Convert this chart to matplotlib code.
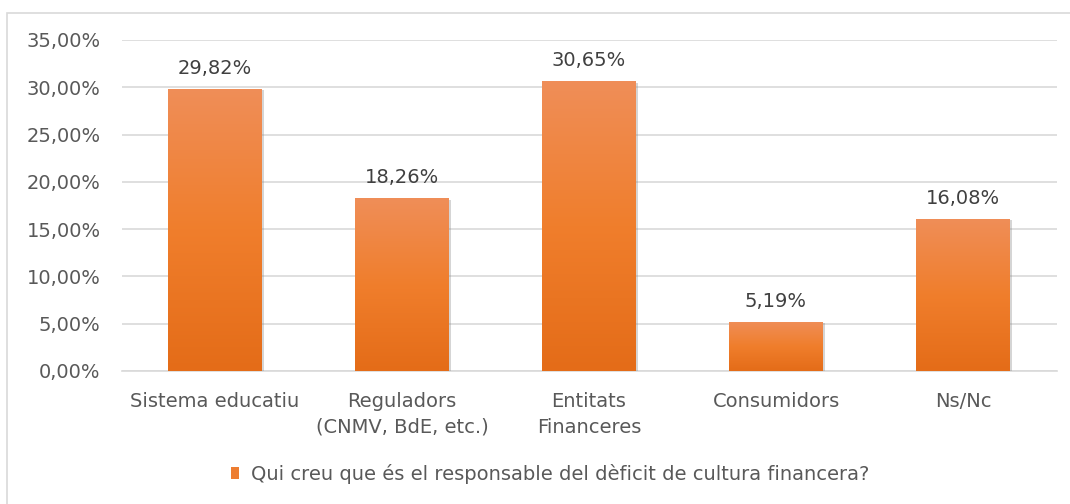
import matplotlib
matplotlib.use("Agg")
import matplotlib.pyplot as plt
import numpy as np
from matplotlib.patches import Rectangle
import matplotlib.patheffects as pe
from matplotlib.colors import LinearSegmentedColormap

categories = ["Sistema educatiu", "Reguladors\n(CNMV, BdE, etc.)", "Entitats\nFinanceres", "Consumidors", "Ns/Nc"]
values = [29.82, 18.26, 30.65, 5.19, 16.08]
value_labels = ["29,82%", "18,26%", "30,65%", "5,19%", "16,08%"]
yticks = [0, 5, 10, 15, 20, 25, 30, 35]
ytick_labels = ["0,00%", "5,00%", "10,00%", "15,00%", "20,00%", "25,00%", "30,00%", "35,00%"]
series_name = "Qui creu que és el responsable del dèficit de cultura financera?"

plt.rcParams['font.family'] = ['DejaVu Sans']
text_color = "#595959"
fs = 14

fig = plt.figure(figsize=(10.7, 5.04), dpi=100)
W, H = 1070, 504
# outer chart border
fig.patches.append(Rectangle((7 / W, -0.1), 1.2, (H - 13) / H + 0.1, transform=fig.transFigure,
                             fill=False, edgecolor="#d9d9d9", linewidth=1.2))

ax = fig.add_axes([121.5 / W, (H - 371) / H, 935 / W, 331 / H])
x = np.arange(len(categories))
bars = ax.bar(x, values, width=0.5, color="#ED7D31", zorder=3,
              path_effects=[pe.SimplePatchShadow(offset=(1.5, -1), shadow_rgbFace="#888888", alpha=0.35), pe.Normal()])

cmap = LinearSegmentedColormap.from_list("g", ["#E46C18", "#F07E2C", "#EF8E58"])
grad = np.linspace(0, 1, 256).reshape(-1, 1)
for b in bars:
    x0, y0 = b.get_x(), b.get_y()
    w, h = b.get_width(), b.get_height()
    im = ax.imshow(grad, cmap=cmap, extent=[x0, x0 + w, y0, y0 + h], origin="lower",
                   aspect="auto", zorder=4)
    im.set_clip_path(b)

for xi, v, lab in zip(x, values, value_labels):
    ax.annotate(lab, (xi, v), xytext=(0, 8), textcoords="offset points", ha="center", va="bottom",
                fontsize=fs, color="#404040")

ax.set_xlim(-0.5, len(categories) - 0.5)
ax.set_ylim(0, 35)
ax.set_yticks(yticks)
ax.set_yticklabels(ytick_labels, fontsize=fs, color=text_color)
ax.set_xticks(x)
ax.set_xticklabels(categories, fontsize=fs, color=text_color, linespacing=1.45)
ax.tick_params(axis="both", length=0)
ax.tick_params(axis="y", pad=15)
ax.tick_params(axis="x", pad=15)
ax.grid(axis="y", color="#d9d9d9", linewidth=1.2, zorder=0)
for s in ["top", "right", "left"]:
    ax.spines[s].set_visible(False)
ax.spines["bottom"].set_color("#d9d9d9")
ax.spines["bottom"].set_linewidth(1.2)

handle = Rectangle((0, 0), 1, 1, facecolor="#ED7D31")
fig.legend([handle], [series_name], loc="center", bbox_to_anchor=(550 / W, (H - 474) / H),
           frameon=False, fontsize=fs, labelcolor=text_color, handlelength=0.42, handleheight=0.55,
           handletextpad=0.6)

fig.savefig("out.png", dpi=100)
